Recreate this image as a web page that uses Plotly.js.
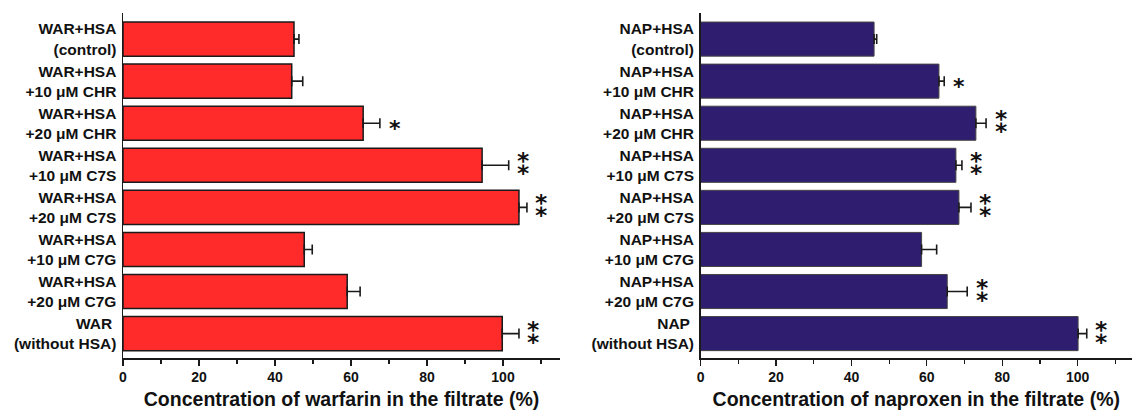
<!DOCTYPE html>
<html>
<head>
<meta charset="utf-8">
<script src="https://cdn.plot.ly/plotly-3.0.1.min.js"></script>
<style>html,body{margin:0;padding:0;background:#fff;}#chart{width:1132px;height:410px;}</style>
</head>
<body>
<div id="chart"></div>
<script>
// ---- data ----
const warCategories = [
  "WAR+HSA<br>(control)",
  "WAR+HSA<br>+10 μM CHR",
  "WAR+HSA<br>+20 μM CHR",
  "WAR+HSA<br>+10 μM C7S",
  "WAR+HSA<br>+20 μM C7S",
  "WAR+HSA<br>+10 μM C7G",
  "WAR+HSA<br>+20 μM C7G",
  "WAR <br>(without HSA)"
];
const warValues = [45.0, 44.4, 63.2, 94.5, 104.2, 47.7, 59.0, 99.8];
const warErrors = [1.3, 2.9, 4.4, 7.0, 2.1, 2.1, 3.4, 4.4];
const warSignif = ["", "", "*", "**", "**", "", "", "**"];

const napCategories = [
  "NAP+HSA<br>(control)",
  "NAP+HSA<br>+10 μM CHR",
  "NAP+HSA<br>+20 μM CHR",
  "NAP+HSA<br>+10 μM C7S",
  "NAP+HSA<br>+20 μM C7S",
  "NAP+HSA<br>+10 μM C7G",
  "NAP+HSA<br>+20 μM C7G",
  "NAP <br>(without HSA)"
];
const napValues = [46.0, 63.2, 73.0, 67.7, 68.5, 58.6, 65.4, 100.1];
const napErrors = [0.7, 1.4, 2.7, 1.6, 3.2, 4.0, 5.3, 2.3];
const napSignif = ["", "*", "**", "**", "**", "", "**", "**"];

const xTickVals = [0, 20, 40, 60, 80, 100];

// ---- styling ----
const FONT = "Liberation Sans, Arial, Helvetica, sans-serif";
const AX = "#1a1a1a";

function barTrace(cats, vals, errs, color, lineColor, lineWidth, xa, ya) {
  return {
    type: "bar", orientation: "h",
    y: cats, x: vals, xaxis: xa, yaxis: ya,
    width: 0.81,
    marker: {color: color, line: {color: lineColor, width: lineWidth}},
    error_x: {type: "data", array: errs, arrayminus: errs.map(() => 0), symmetric: false,
              color: AX, thickness: 1.6, width: 5},
    hoverinfo: "skip", showlegend: false
  };
}

function xAxis(domain, range, title, anchor) {
  return {
    domain: domain, range: range, anchor: anchor,
    showline: true, linecolor: AX, linewidth: 1.5,
    showgrid: false, zeroline: false,
    tickvals: xTickVals, ticks: "outside", ticklen: 6, tickwidth: 1.2, tickcolor: AX,
    minor: {dtick: 10, tick0: 0, ticks: "outside", ticklen: 4, tickwidth: 1.2, tickcolor: AX, showgrid: false},
    tickfont: {family: FONT, size: 14, color: "#111", weight: "bold"},
    title: {text: title, font: {family: FONT, size: 19.5, color: "#111", weight: "bold"}, standoff: 9},
    fixedrange: true
  };
}

function yAxis(xa, cats) {
  return {
    anchor: xa, domain: [0, 1], type: "category",
    categoryorder: "array", categoryarray: cats,
    range: [7.58, -0.62],
    showline: true, linecolor: AX, linewidth: 1.5,
    showgrid: false, zeroline: false, ticks: "",
    ticklabelstandoff: 2,
    tickfont: {family: FONT, size: 15.5, color: "#111", weight: "bold"},
    fixedrange: true
  };
}

// "**" is drawn as the single glyph U+2051 (two asterisks aligned vertically)
function starAnnotations(cats, vals, errs, sig, xref, yref) {
  const out = [];
  cats.forEach((c, i) => {
    const n = sig[i].length;
    if (!n) return;
    out.push({
      x: vals[i] + errs[i], y: c, xref: xref, yref: yref,
      text: n === 1 ? "*" : "\u2051", showarrow: false, xanchor: "center", yanchor: "middle",
      xshift: 15, yshift: n === 1 ? -5 : 0,
      font: {family: "DejaVu Sans", size: n === 1 ? 22 : 29, color: "#111", weight: "bold"}
    });
  });
  return out;
}

const data = [
  barTrace(warCategories, warValues, warErrors, "#ff2b2b", "#1a1a1a", 1.5, "x", "y"),
  barTrace(napCategories, napValues, napErrors, "#2f1d70", "#444444", 1.0, "x2", "y2")
];

const layout = {
  width: 1132, height: 410,
  margin: {l: 0, r: 0, t: 13, b: 52},
  paper_bgcolor: "#fff", plot_bgcolor: "#fff",
  showlegend: false,
  xaxis: xAxis([123 / 1132, 560 / 1132], [0, 115], "Concentration of warfarin in the filtrate (%)", "y"),
  yaxis: yAxis("x", warCategories),
  xaxis2: xAxis([700.6 / 1132, 1], [0, 114.4], "Concentration of naproxen in the filtrate (%)", "y2"),
  yaxis2: yAxis("x2", napCategories),
  annotations: starAnnotations(warCategories, warValues, warErrors, warSignif, "x", "y")
    .concat(starAnnotations(napCategories, napValues, napErrors, napSignif, "x2", "y2"))
};

Plotly.newPlot("chart", data, layout, {staticPlot: true, displayModeBar: false});
</script>
</body>
</html>
